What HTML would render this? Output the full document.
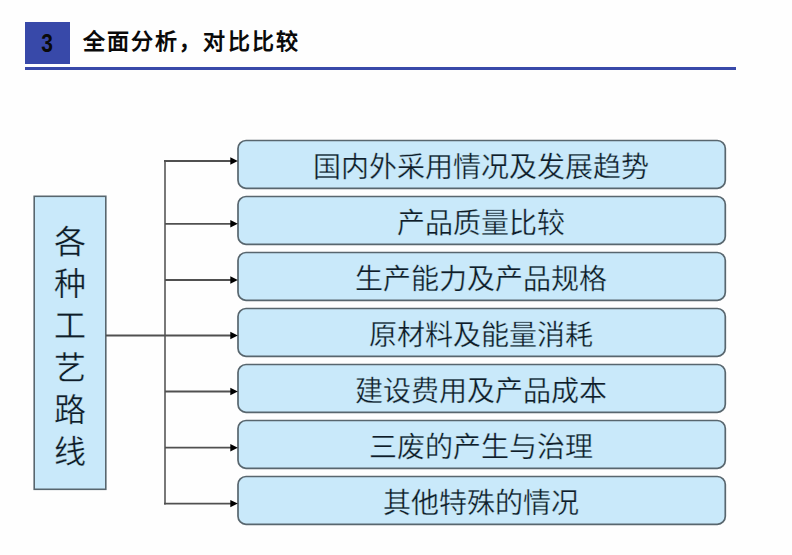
<!DOCTYPE html>
<html lang="zh-CN">
<head>
<meta charset="utf-8">
<style>
html,body{margin:0;padding:0;background:#fefefe;}
body{width:792px;height:555px;position:relative;overflow:hidden;font-family:"Liberation Sans",sans-serif;}
.num{position:absolute;left:25px;top:22px;width:45px;height:42px;background:#3849a9;color:#0a0a0a;font-weight:bold;font-size:25.5px;line-height:42px;text-align:center;}
.title{position:absolute;left:83px;top:21px;height:42px;line-height:42px;font-size:22px;letter-spacing:2.1px;font-weight:bold;color:#0a0a0a;white-space:nowrap;}
.rule{position:absolute;left:25px;top:67px;width:711px;height:3px;background:#3849a9;}
svg{position:absolute;left:0;top:0;}
.vt{position:absolute;left:33px;top:221px;width:73px;text-align:center;font-family:"Liberation Serif",serif;font-size:32px;line-height:42px;color:#101c28;-webkit-text-stroke:0.3px #c9e9fa;}
.bt{position:absolute;left:237px;width:488px;height:49px;text-align:center;font-family:"Liberation Serif",serif;font-size:28px;line-height:49px;color:#101c28;white-space:nowrap;-webkit-text-stroke:0.3px #c9e9fa;}
</style>
</head>
<body>
<div class="num"><span style="display:inline-block;transform:translate(0px,-0.4px) scaleX(0.82)">3</span></div>
<div class="title">全面分析，对比比较</div>
<div class="rule"></div>

<svg width="792" height="555" viewBox="0 0 792 555">
<g fill="#c9e9fa" stroke="#58666e" stroke-width="1.7">
<rect x="34.2" y="196.3" width="71.6" height="293" stroke-width="1.6"/>
<rect x="238" y="140.5" width="487.3" height="47.8" rx="8"/>
<rect x="238" y="196.5" width="487.3" height="47.8" rx="8"/>
<rect x="238" y="252.5" width="487.3" height="47.8" rx="8"/>
<rect x="238" y="308.5" width="487.3" height="47.8" rx="8"/>
<rect x="238" y="364.5" width="487.3" height="47.8" rx="8"/>
<rect x="238" y="420.5" width="487.3" height="47.8" rx="8"/>
<rect x="238" y="476.5" width="487.3" height="47.8" rx="8"/>
</g>
<g stroke="#505050" stroke-width="1.8" fill="none">
<path d="M165 160V504.6" stroke="#6a6a6a"/>
<path d="M106 335.5H231"/>
<path d="M164 161H231"/>
<path d="M165 223.8H231"/>
<path d="M165 280H231"/>
<path d="M165 391.5H231"/>
<path d="M165 447.7H231"/>
<path d="M164 503.6H231"/>
</g>
<g fill="#000">
<path d="M230.3 157.3L237.8 161L230.3 164.7Z"/>
<path d="M230.3 220.1L237.8 223.8L230.3 227.5Z"/>
<path d="M230.3 276.3L237.8 280L230.3 283.7Z"/>
<path d="M230.3 331.8L237.8 335.5L230.3 339.2Z"/>
<path d="M230.3 387.8L237.8 391.5L230.3 395.2Z"/>
<path d="M230.3 444.0L237.8 447.7L230.3 451.4Z"/>
<path d="M230.3 499.9L237.8 503.6L230.3 507.3Z"/>
</g>
</svg>

<div class="vt">各<br>种<br>工<br>艺<br>路<br>线</div>

<div class="bt" style="top:142.5px">国内外采用情况及发展趋势</div>
<div class="bt" style="top:198.5px">产品质量比较</div>
<div class="bt" style="top:254.5px">生产能力及产品规格</div>
<div class="bt" style="top:310.5px">原材料及能量消耗</div>
<div class="bt" style="top:366.5px">建设费用及产品成本</div>
<div class="bt" style="top:422.5px">三废的产生与治理</div>
<div class="bt" style="top:478.5px">其他特殊的情况</div>
</body>
</html>
